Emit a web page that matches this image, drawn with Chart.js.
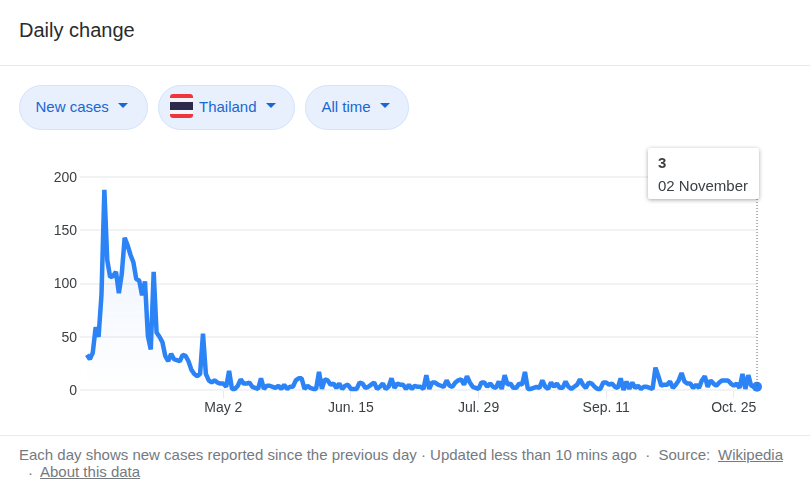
<!DOCTYPE html>
<html>
<head>
<meta charset="utf-8">
<title>Daily change</title>
<script src="https://cdn.jsdelivr.net/npm/chart.js@4"></script>
<style>
html, body { margin: 0; padding: 0; background: #fff; }
body { width: 810px; height: 489px; position: relative; overflow: hidden; font-family: "Liberation Sans", Arial, sans-serif; }
.title { position: absolute; left: 19px; top: 18px; font-size: 20px; line-height: 24px; color: #292b2e; }
.rule { position: absolute; left: 0; width: 810px; height: 1px; background: #e8eaed; }
.pill { position: absolute; top: 85px; height: 43px; line-height: 42px; background: #e8f0fe; border: 1px solid #d2e3fc; border-radius: 23px; color: #1967d2; font-size: 15px; }
.pill span { position: absolute; top: 0; white-space: nowrap; }
.pill i { position: absolute; top: 17px; width: 0; height: 0; border-left: 5.5px solid transparent; border-right: 5.5px solid transparent; border-top: 5.5px solid #1967d2; }
.flag { position: absolute; left: 11px; top: 8px; width: 23px; height: 24px; border-radius: 3px; overflow: hidden; background: linear-gradient(#f0343c 0 17%, #f4f5f8 17% 33%, #2d2a4a 33% 67%, #f4f5f8 67% 83%, #f0343c 83% 100%); }
#wrap { position: absolute; left: 0; top: 141px; width: 810px; height: 294px; }
.tip { position: absolute; left: 648px; top: 148px; width: 111px; height: 51px; background: #fff; border-radius: 2px; box-shadow: 0 1px 4px rgba(0,0,0,.35); color: #3c4043; font-size: 15px; }
.tip b { position: absolute; left: 10px; top: 6px; color: #3c4043; }
.tip span { position: absolute; left: 10px; top: 29px; white-space: nowrap; }
.foot { position: absolute; left: 19px; top: 446px; width: 780px; font-size: 15px; line-height: 18px; color: #757a7f; }
.foot u { color: #757a7f; }
.foot .dot { position: absolute; left: 9px; top: 18px; }
.foot .about { position: absolute; left: 21px; top: 17px; }
.foot .wiki { position: absolute; left: 699px; top: 0; }
</style>
</head>
<body>
<div class="title">Daily change</div>
<div class="rule" style="top:65px"></div>

<div class="pill" style="left:19px;width:127px"><span style="left:15.5px">New cases</span><i style="left:98px"></i></div>
<div class="pill" style="left:158px;width:135px"><div class="flag"></div><span style="left:40px">Thailand</span><i style="left:107px"></i></div>
<div class="pill" style="left:305px;width:102px"><span style="left:15.5px">All time</span><i style="left:74px"></i></div>

<div id="wrap"><canvas id="chart"></canvas></div>

<div class="tip"><b>3</b><span>02 November</span></div>

<div class="rule" style="top:435px"></div>
<div class="foot">Each day shows new cases reported since the previous day · Updated less than 10 mins ago &nbsp;·&nbsp; Source:<u class="wiki">Wikipedia</u><span class="dot">·</span><u class="about">About this data</u></div>

<script>
// one value per day, first day is 16 March
const dailyCases = [
    33, 29, 35, 59, 50, 89, 188, 122, 106, 107,
    111, 91, 109, 143, 136, 127, 120, 104, 103, 89,
    102, 51, 38, 111, 54, 50, 45, 32, 27, 34,
    29, 28, 27, 33, 32, 27, 19, 15, 13, 15,
    53, 15, 9, 7, 9, 7, 6, 6, 3, 18,
    1, 1, 4, 10, 6, 6, 7, 3, 2, 1,
    11, 1, 4, 4, 3, 2, 4, 1, 5, 1,
    3, 3, 9, 11, 11, 1, 4, 2, 1, 1,
    17, 1, 10, 9, 5, 6, 2, 6, 1, 4,
    5, 1, 1, 1, 7, 6, 2, 3, 5, 7,
    1, 3, 6, 1, 3, 11, 2, 6, 5, 5,
    1, 5, 1, 4, 3, 3, 1, 14, 1, 7,
    7, 5, 4, 3, 9, 4, 3, 7, 9, 10,
    5, 13, 7, 3, 2, 1, 7, 7, 3, 6,
    3, 2, 8, 1, 14, 5, 6, 2, 2, 6,
    5, 17, 1, 1, 2, 3, 2, 9, 3, 1,
    7, 3, 6, 2, 2, 8, 3, 1, 3, 5,
    10, 5, 2, 7, 6, 3, 1, 1, 7, 7,
    5, 6, 3, 2, 11, 0, 8, 1, 7, 2,
    4, 1, 3, 3, 2, 1, 21, 13, 4, 5,
    5, 8, 2, 5, 9, 16, 8, 6, 6, 2,
    5, 2, 9, 13, 3, 9, 6, 4, 7, 9,
    9, 9, 6, 4, 6, 2, 15, 1, 14, 4,
    3, 3
];
const tickDays = [47, 91, 135, 179, 223];
const tickLabels = ['May 2', 'Jun. 15', 'Jul. 29', 'Sep. 11', 'Oct. 25'];
const yTicks = [0, 50, 100, 150, 200];

const lastIndex = dailyCases.length - 1;
const points = dailyCases.map((v, i) => ({ x: i, y: v }));

// dotted line from the tooltip down to the last point
const hoverLine = {
    id: 'hoverLine',
    afterDatasetsDraw(chart) {
        const px = chart.scales.x.getPixelForValue(lastIndex);
        const py = chart.scales.y.getPixelForValue(dailyCases[lastIndex]);
        const c = chart.ctx;
        c.save();
        c.strokeStyle = '#5f6368';
        c.lineWidth = 1;
        c.setLineDash([1, 2]);
        c.beginPath();
        c.moveTo(px, 58);
        c.lineTo(px, py);
        c.stroke();
        c.restore();
    }
};

function areaFill(ctx) {
    const area = ctx.chart.chartArea;
    if (!area) return 'transparent';
    const g = ctx.chart.ctx.createLinearGradient(0, area.top, 0, area.bottom);
    g.addColorStop(0, 'rgba(66,133,244,0.12)');
    g.addColorStop(1, 'rgba(66,133,244,0)');
    return g;
}

new Chart(document.getElementById('chart'), {
    type: 'line',
    data: {
        datasets: [{
            data: points,
            borderColor: '#2b83f6',
            borderWidth: 4.5,
            borderJoinStyle: 'bevel',
            tension: 0,
            fill: 'origin',
            backgroundColor: areaFill,
            clip: false,
            pointRadius: ctx => ctx.dataIndex === lastIndex ? 5 : 0,
            pointBackgroundColor: '#2b83f6',
            pointBorderWidth: 0
        }]
    },
    options: {
        responsive: true,
        maintainAspectRatio: false,
        animation: false,
        layout: { padding: { top: 36, right: 53, left: 0, bottom: 0 } },
        plugins: { legend: { display: false }, tooltip: { enabled: false } },
        scales: {
            x: {
                type: 'linear',
                min: -2.4,
                max: lastIndex,
                afterBuildTicks(axis) { axis.ticks = tickDays.map(v => ({ value: v })); },
                afterFit(axis) { axis.height = 45; },
                border: { display: false },
                grid: { drawOnChartArea: false, drawTicks: true, tickLength: 8, color: '#e8eaed', lineWidth: 1 },
                ticks: {
                    autoSkip: false,
                    maxRotation: 0,
                    padding: 2,
                    color: '#3c4043',
                    font: { family: '"Liberation Sans"', size: 14 },
                    callback: v => tickLabels[tickDays.indexOf(v)]
                }
            },
            y: {
                min: 0,
                max: 200,
                afterBuildTicks(axis) { axis.ticks = yTicks.map(v => ({ value: v })); },
                afterFit(axis) { axis.width = 80; },
                border: { display: false },
                grid: { drawTicks: false, color: '#f1f3f4', lineWidth: 2 },
                ticks: {
                    padding: 3,
                    labelOffset: 1,
                    color: '#3c4043',
                    font: { family: '"Liberation Sans"', size: 14 }
                }
            }
        }
    },
    plugins: [hoverLine]
});
</script>
</body>
</html>
